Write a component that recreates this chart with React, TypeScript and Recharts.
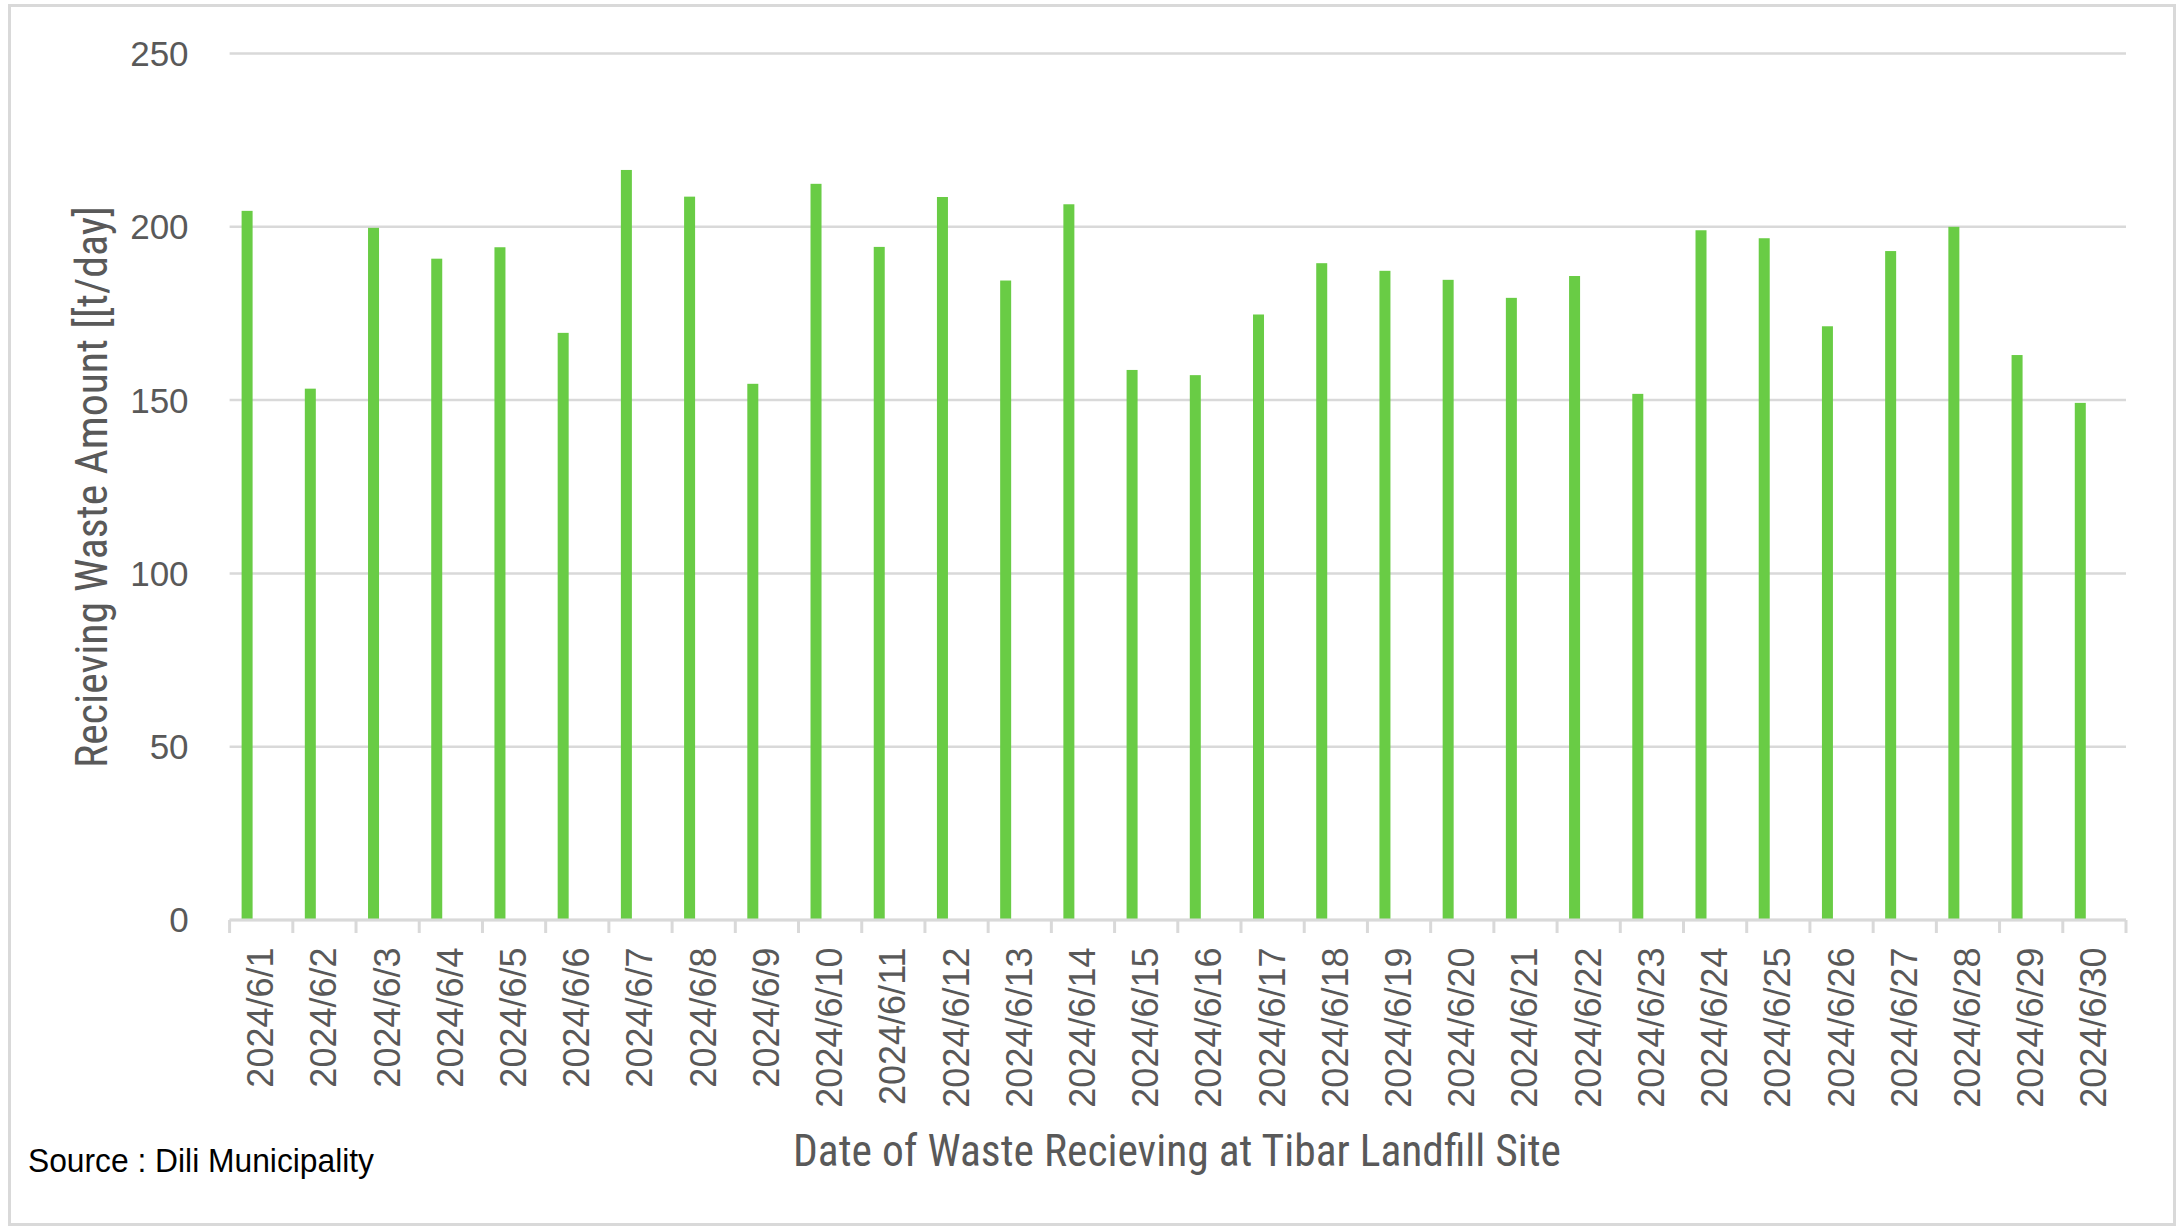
import { BarChart, Bar, XAxis, YAxis, CartesianGrid } from "recharts";

// Daily tonnage received at Tibar landfill, June 2024
const dates = [
  "2024/6/1", "2024/6/2", "2024/6/3", "2024/6/4", "2024/6/5", "2024/6/6",
  "2024/6/7", "2024/6/8", "2024/6/9", "2024/6/10", "2024/6/11", "2024/6/12",
  "2024/6/13", "2024/6/14", "2024/6/15", "2024/6/16", "2024/6/17", "2024/6/18",
  "2024/6/19", "2024/6/20", "2024/6/21", "2024/6/22", "2024/6/23", "2024/6/24",
  "2024/6/25", "2024/6/26", "2024/6/27", "2024/6/28", "2024/6/29", "2024/6/30",
];

const amounts = [
  204.6, 153.3, 199.7, 190.8, 194.1, 169.4, 216.4, 208.7, 154.7, 212.4,
  194.2, 208.6, 184.5, 206.5, 158.7, 157.2, 174.7, 189.5, 187.3, 184.7,
  179.5, 185.8, 151.8, 199.0, 196.7, 171.3, 193.0, 200.0, 163.0, 149.2,
];

const yTicks = [0, 50, 100, 150, 200, 250];

const data = dates.map((date, i) => ({ date, amount: amounts[i] }));

const W = 2182;
const H = 1228;
const PLOT_LEFT = 229.6;
const PLOT_RIGHT = 2126;
const PLOT_TOP = 53.5;
const PLOT_BOTTOM = 920;
const HALF_BAND = (PLOT_RIGHT - PLOT_LEFT) / dates.length / 2;

const GRID = "#d9d9d9";
const TEXT = "#595959";
const GREEN = "#69CC45";
const SANS = "'Liberation Sans', Arial, sans-serif";
const NARROW = "'Liberation Sans Narrow', 'Arial Narrow', 'Roboto Condensed', 'Liberation Sans', Arial, sans-serif";

// the series sits left of the band centre, like an Excel clustered bar with an empty partner
const BAR_SHIFT = -14;

function ShiftedBar(props: any) {
  const { x, y, width, height } = props;
  if (!height || height <= 0) return null;
  return <rect x={x + BAR_SHIFT} y={y} width={width} height={height} fill={GREEN} />;
}

function DateTick(props: any) {
  const { x, y, payload, index } = props;
  const last = index === dates.length - 1;
  return (
    <g>
      <line x1={x - HALF_BAND} x2={x - HALF_BAND} y1={y} y2={y + 13} stroke={GRID} strokeWidth={3} />
      {last && (
        <line x1={x + HALF_BAND} x2={x + HALF_BAND} y1={y} y2={y + 13} stroke={GRID} strokeWidth={3} />
      )}
      <text
        transform={`translate(${x - 1},${y + 27.5}) rotate(-90)`}
        textAnchor="end"
        dy="0.36em"
        fill={TEXT}
        fontSize={36}
        fontFamily={SANS}
      >
        {payload.value}
      </text>
    </g>
  );
}

export default function App() {
  return (
    <div style={{ position: "absolute", left: 0, top: 0, width: W, height: H, background: "#fff" }}>
      <div
        style={{
          position: "absolute",
          left: 8,
          top: 4,
          width: 2168,
          height: 1222,
          border: `3px solid ${GRID}`,
          boxSizing: "border-box",
        }}
      />
      <div style={{ position: "absolute", left: 0, top: 0 }}>
        <BarChart
          width={W}
          height={H}
          data={data}
          margin={{ top: PLOT_TOP, right: W - PLOT_RIGHT, bottom: 0, left: 0 }}
          barSize={11}
        >
          <CartesianGrid vertical={false} stroke={GRID} strokeWidth={2.5} />
          <XAxis
            dataKey="date"
            interval={0}
            height={H - PLOT_BOTTOM}
            axisLine={{ stroke: GRID, strokeWidth: 3 }}
            tickLine={false}
            tickSize={0}
            tickMargin={0}
            tick={<DateTick />}
          />
          <YAxis
            width={PLOT_LEFT}
            domain={[0, 250]}
            ticks={yTicks}
            axisLine={false}
            tickLine={false}
            tickSize={0}
            tickMargin={41}
            tick={{ fill: TEXT, fontSize: 35, fontFamily: SANS }}
          />
          <Bar dataKey="amount" fill={GREEN} shape={<ShiftedBar />} isAnimationActive={false} />
        </BarChart>
      </div>
      <svg
        width={W}
        height={H}
        style={{ position: "absolute", left: 0, top: 0, pointerEvents: "none" }}
      >
        <text
          transform="translate(107,487) rotate(-90)"
          textAnchor="middle"
          fontSize={44}
          fontFamily={NARROW}
          fill={TEXT}
          textLength={562}
          lengthAdjust="spacingAndGlyphs"
        >
          Recieving Waste Amount [[t/day]
        </text>
        <text
          x={1177}
          y={1166}
          textAnchor="middle"
          fontSize={44}
          fontFamily={NARROW}
          fill={TEXT}
          textLength={768}
          lengthAdjust="spacingAndGlyphs"
        >
          Date of Waste Recieving at Tibar Landfill Site
        </text>
        <text
          x={28}
          y={1172}
          fontSize={33}
          fontFamily={SANS}
          fill="#000"
          textLength={346}
          lengthAdjust="spacingAndGlyphs"
        >
          Source : Dili Municipality
        </text>
      </svg>
    </div>
  );
}
